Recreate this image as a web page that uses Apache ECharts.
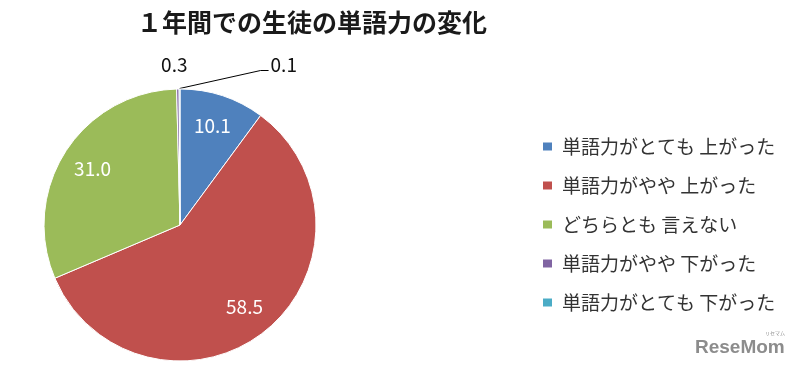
<!DOCTYPE html>
<html><head><meta charset="utf-8">
<script src="https://cdn.jsdelivr.net/npm/echarts@6/dist/echarts.min.js"></script>
<style>html,body{margin:0;padding:0;background:#fff}#c{width:807px;height:375px}</style>
</head><body><div id="c"></div>
<script>
const titleText = '１年間での生徒の単語力の変化';
const categories = ['単語力がとても 上がった','単語力がやや 上がった','どちらとも 言えない','単語力がやや 下がった','単語力がとても 下がった'];
const values = [10.1, 58.5, 31.0, 0.3, 0.1];
const colors = ['#4F81BD','#C0504D','#9BBB59','#8064A2','#4BACC6'];
const FONT = '"Noto Sans CJK JP","Noto Sans",sans-serif';

const chart = echarts.init(document.getElementById('c'));
const center = [180, 225];
const R = 136;

const mainData = categories.map((n,i)=>({
  name:n, value:values[i],
  itemStyle:{color:colors[i]},
  label: i>=3 ? {show:true} : {show:false},
  labelLine: i===4 ? {show:true} : {show:false}
}));
const overlayData = categories.map((n,i)=>({
  name:n, value:values[i],
  label: i<3 ? {show:true} : {show:false}
}));

chart.setOption({
  animation:false,
  title:{text:titleText,left:307,textAlign:'center',top:5,textStyle:{fontFamily:FONT,fontSize:25,fontWeight:'bold',color:'#1a1a1a'}},
  legend:{orient:'vertical',left:536,top:132,itemWidth:11,itemHeight:10,itemGap:20,icon:'rect',
    data:categories,
    textStyle:{fontFamily:FONT,fontSize:19,color:'#333',padding:[0,0,0,4]}},
  series:[
    {type:'pie',center:center,radius:[0,R],startAngle:90,clockwise:true,silent:true,
     itemStyle:{borderColor:'#fff',borderWidth:1},
     label:{position:'outside',formatter:p=>p.value.toFixed(1),fontFamily:FONT,fontSize:19,color:'#111'},
     labelLine:{length:10,length2:5,lineStyle:{color:'#000',width:1}},
     labelLayout:function(p){
       const r=p.rect; const ax=r.x+r.width/2, ay=r.y;
       if(p.dataIndex===4){
         return {x:ax+91,y:ay-24,align:'left',verticalAlign:'middle',
           labelLinePoints:[[ax,ay],[ax+81,ay-18],[ax+89,ay-18]]};
       }
       if(p.dataIndex===3){
         return {x:ax-4,y:ay-24,align:'center',verticalAlign:'middle'};
       }
     },
     data:mainData},
    {type:'pie',center:center,radius:[66,R],startAngle:90,clockwise:true,silent:true,
     itemStyle:{color:'rgba(0,0,0,0)',borderWidth:0},
     label:{position:'inside',formatter:p=>p.value.toFixed(1),fontFamily:FONT,fontSize:19,color:'#fff'},
     labelLine:{show:false},
     legendHoverLink:false,
     data:overlayData}
  ],
  graphic:[
    {type:'text',left:695,top:338,style:{text:'ReseMom',font:'bold 19px "Liberation Sans",sans-serif',fill:'#8c8c8c'}},
    {type:'text',left:765,top:331,style:{text:'リセマム',font:'5px "Noto Sans CJK JP"',fill:'#8c8c8c'}}
  ]
});
</script></body></html>
